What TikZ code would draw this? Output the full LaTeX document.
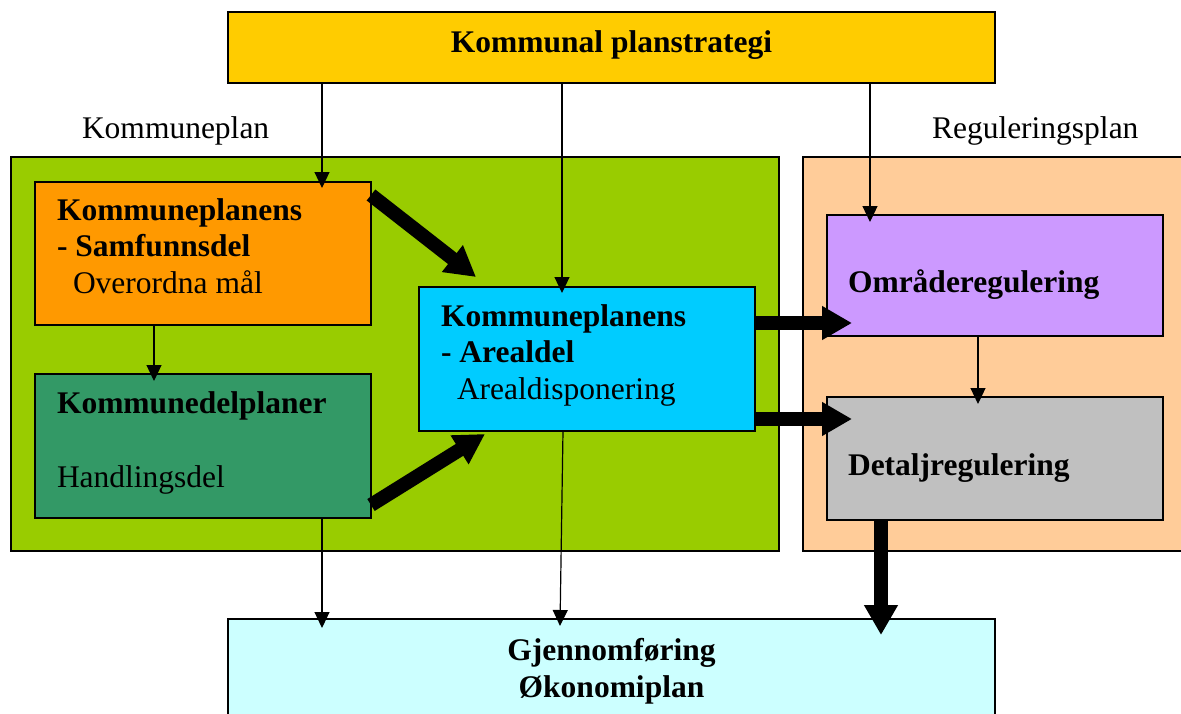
\documentclass[tikz,border=0pt]{standalone}
\usepackage{fontspec}
\setmainfont{Liberation Serif}
\usepackage{xcolor}
\usetikzlibrary{arrows.meta}

\definecolor{planyellow}{HTML}{FFCC00}
\definecolor{kpgreen}{HTML}{99CC00}
\definecolor{regpeach}{HTML}{FFCC99}
\definecolor{samforange}{HTML}{FF9900}
\definecolor{delgreen}{HTML}{339966}
\definecolor{arealcyan}{HTML}{00CCFF}
\definecolor{omrpurple}{HTML}{CC99FF}
\definecolor{detgray}{HTML}{C0C0C0}
\definecolor{okocyan}{HTML}{CCFFFF}

\begin{document}
\begin{tikzpicture}[x=1pt,y=-1pt,
		box/.style={draw=black,line width=1.5pt,inner sep=0pt,outer sep=0pt},
		txt/.style={inner sep=0pt,outer sep=0pt,align=left,font=\fontsize{31.5}{36.5}\selectfont},
		thinarrow/.style={line width=1.2pt,-{Triangle[length=16pt,width=15pt]}},
		fatarrow/.style={line width=14pt,-{Triangle[length=30pt,width=32pt]}}]
		\useasboundingbox (0,0) rectangle (1181,713);
		\clip (0,0) rectangle (1181,713);
		% background areas
		\node[box,fill=kpgreen,minimum width=768pt,minimum height=394pt] (kp) at (395,354) {};
		\node[box,fill=regpeach,minimum width=397pt,minimum height=394pt] (reg) at (1001.5,354) {};
		\node[txt,anchor=base west] (kptxt) at (82,138) {Kommuneplan};
		\node[txt,anchor=base west] (regtxt) at (932,138) {Reguleringsplan};
		% boxes
		\node[box,fill=planyellow,minimum width=767pt,minimum height=71pt] (plan) at (611.5,47.5) {};
		\node[box,fill=samforange,minimum width=336pt,minimum height=143pt] (samf) at (203,253.5) {};
		\node[box,fill=delgreen,minimum width=336pt,minimum height=144pt] (kdel) at (203,446) {};
		\node[box,fill=arealcyan,minimum width=336pt,minimum height=144pt] (areal) at (587,359) {};
		\node[box,fill=omrpurple,minimum width=336pt,minimum height=121pt] (omr) at (995,275.5) {};
		\node[box,fill=detgray,minimum width=336pt,minimum height=123pt] (detalj) at (995,458.5) {};
		\node[box,fill=okocyan,minimum width=767pt,minimum height=141pt] (gjen) at (611.5,689.5) {};
		% texts (base = baseline of the last line)
		\node[txt,anchor=base,font=\fontsize{31.5}{36.5}\selectfont\bfseries] (plantxt) at (611.5,52) {Kommunal planstrategi};
		\node[txt,anchor=base west] (samftxt) at (57,293) {\textbf{Kommuneplanens}\\\textbf{- Samfunnsdel}\\\hspace*{16pt}Overordna mål};
		\node[txt,anchor=base west] (kdeltxt) at (57,487) {\textbf{Kommunedelplaner}\\[37pt]Handlingsdel};
		\node[txt,anchor=base west] (arealtxt) at (441,399) {\textbf{Kommuneplanens}\\\textbf{- Arealdel}\\\hspace*{16pt}Arealdisponering};
		\node[txt,anchor=base west,font=\fontsize{31.5}{36.5}\selectfont\bfseries] (omrtxt) at (848,292) {Områderegulering};
		\node[txt,anchor=base west,font=\fontsize{31.5}{36.5}\selectfont\bfseries] (detaljtxt) at (848,475) {Detaljregulering};
		\node[txt,anchor=base,align=center,font=\fontsize{31.5}{37}\selectfont\bfseries] (gjentxt) at (611.5,697) {Gjennomføring\\Økonomiplan};
		% thin arrows
		\draw[thinarrow] ([shift={(94,0)}]plan.south west) -- ([shift={(-49,6)}]samf.north east);
		\draw[thinarrow] ([shift={(-49.5,0)}]plan.south) -- ([shift={(-25,6)}]areal.north);
		\draw[thinarrow] ([shift={(258.5,0)}]plan.south) -- ([shift={(43,7)}]omr.north west);
		\draw[thinarrow] ([shift={(-49,0)}]samf.south) -- ([shift={(-49,7)}]kdel.north);
		\draw[thinarrow] ([shift={(-17,0)}]omr.south) -- ([shift={(-17,7)}]detalj.north);
		\draw[thinarrow] ([shift={(-49,0)}]kdel.south east) -- ([shift={(94,9)}]gjen.north west);
		\draw[thinarrow] ([shift={(-24,0)}]areal.south) -- ([shift={(-51.5,7)}]gjen.north);
		% thick arrows
		\draw[fatarrow] ([shift={(0,13)}]samf.north east) -- ([shift={(57,-10)}]areal.north west);
		\draw[fatarrow] ([shift={(0,-13)}]kdel.south east) -- ([shift={(66,3)}]areal.south west);
		\draw[fatarrow] ([shift={(0,-36)}]areal.east) -- ([shift={(25,-13)}]omr.south west);
		\draw[fatarrow] ([shift={(0,-12)}]areal.south east) -- ([shift={(25,22)}]detalj.north west);
		\draw[fatarrow] ([shift={(-114,0)}]detalj.south) -- ([shift={(269.5,16)}]gjen.north);
	\end{tikzpicture}
\end{document}
